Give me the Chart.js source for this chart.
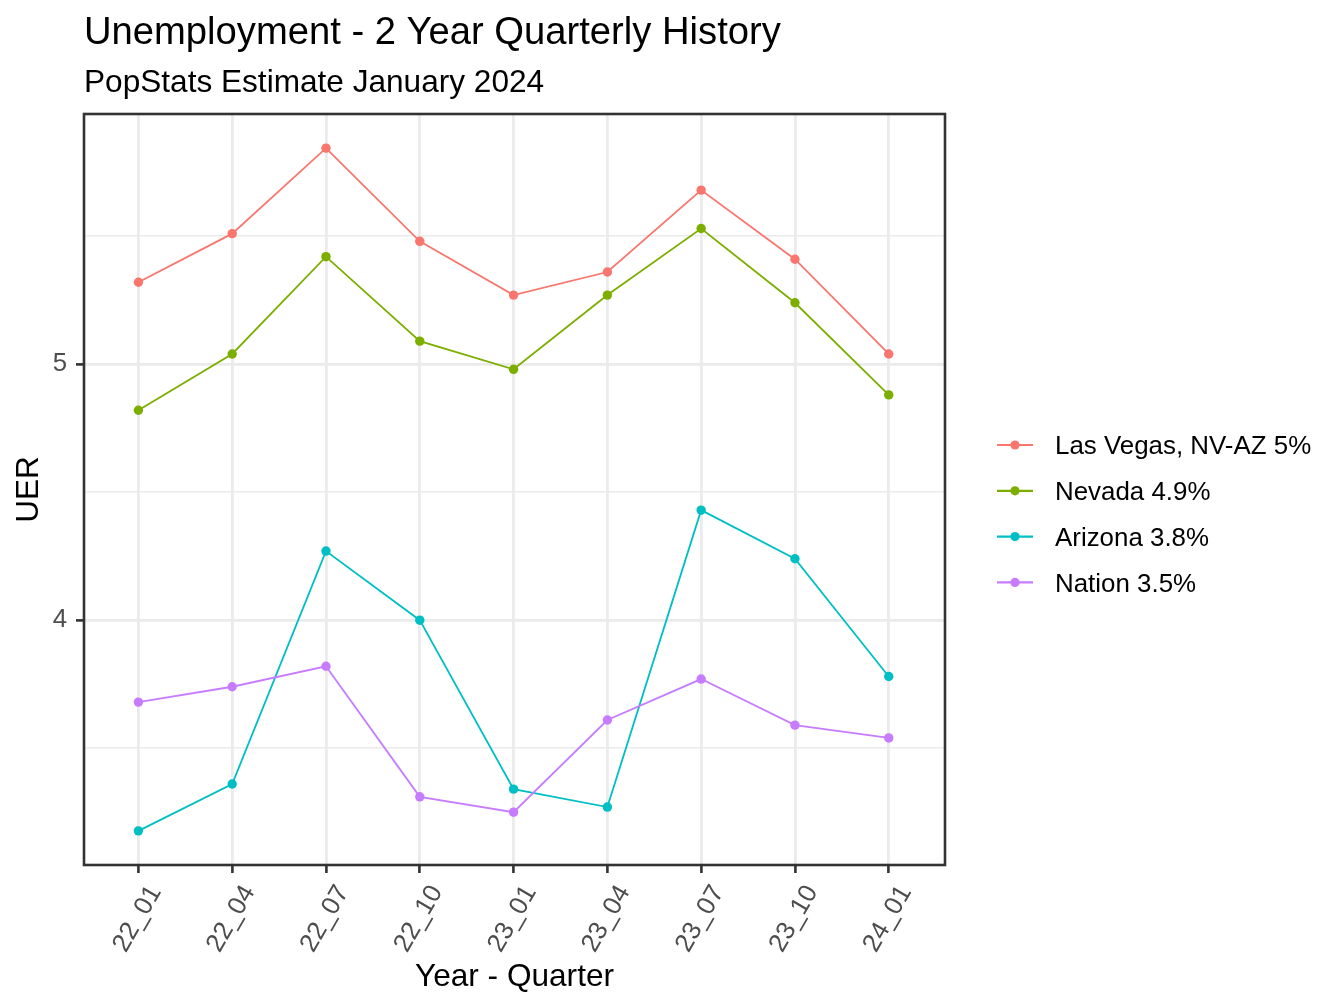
<!DOCTYPE html>
<html><head><meta charset="utf-8">
<script src="https://cdn.jsdelivr.net/npm/chart.js@4.4.1/dist/chart.umd.min.js"></script>
<style>html,body{margin:0;padding:0;background:#fff}canvas{display:block}</style>
</head><body>
<canvas id="c" width="1344" height="1008"></canvas>
<script>
const chartTitle = 'Unemployment - 2 Year Quarterly History';
const chartSubtitle = 'PopStats Estimate January 2024';
const xTitle = 'Year - Quarter';
const yTitle = 'UER';
const categories = ['22_01','22_04','22_07','22_10','23_01','23_04','23_07','23_10','24_01'];
const seriesNames = ['Las Vegas, NV-AZ 5%','Nevada 4.9%','Arizona 3.8%','Nation 3.5%'];
const lasVegas = [5.32,5.51,5.844,5.48,5.27,5.36,5.68,5.41,5.04];
const nevada   = [4.82,5.04,5.42,5.09,4.98,5.27,5.53,5.24,4.88];
const arizona  = [3.177,3.36,4.27,4.00,3.34,3.27,4.43,4.24,3.78];
const nation   = [3.68,3.74,3.82,3.31,3.25,3.61,3.77,3.59,3.54];
const yTickValues = [3.5,4,4.5,5,5.5];
const yTickLabels = ['','4','','5',''];
const seriesColors = ['#F8766D','#7CAE00','#00BFC4','#C77CFF'];

const FONT = "'Liberation Sans', Arial, sans-serif";
const seriesValues = [lasVegas, nevada, arizona, nation];
const allVals = seriesValues.flat();
const vMin = Math.min(...allVals), vMax = Math.max(...allVals);
const vPad = (vMax - vMin) * 0.05;

const datasets = seriesValues.map((vals, s) => ({
  label: seriesNames[s],
  data: vals.map((v, i) => ({x: i, y: v})),
  borderColor: seriesColors[s],
  backgroundColor: seriesColors[s],
  borderWidth: 1.8,
  pointRadius: 4.7,
  pointHoverRadius: 4.7,
  pointBorderWidth: 0,
  tension: 0,
  order: seriesValues.length - s
}));

const titlePlugin = {
  id: 'ggTitles',
  afterDraw(chart) {
    const ctx = chart.ctx, a = chart.chartArea;
    ctx.save();
    ctx.fillStyle = '#000';
    ctx.textAlign = 'left';
    ctx.textBaseline = 'alphabetic';
    ctx.font = `38.2px ${FONT}`;
    ctx.fillText(chartTitle, a.left, 43.5);
    ctx.font = `31.6px ${FONT}`;
    ctx.fillText(chartSubtitle, a.left, 92);
    ctx.restore();
  }
};

const borderPlugin = {
  id: 'panelBorder',
  afterDatasetsDraw(chart) {
    const ctx = chart.ctx, a = chart.chartArea;
    ctx.save();
    ctx.strokeStyle = '#333333';
    ctx.lineWidth = 2.6;
    ctx.strokeRect(a.left, a.top, a.right - a.left, a.bottom - a.top);
    ctx.restore();
  }
};

const legendPlugin = {
  id: 'ggLegend',
  afterDraw(chart) {
    const ctx = chart.ctx;
    const x0 = 997, x1 = 1033, tx = 1055, y0 = 445, dy = 45.8;
    ctx.save();
    chart.data.datasets.forEach((ds, i) => {
      const y = y0 + i * dy;
      ctx.strokeStyle = ds.borderColor;
      ctx.lineWidth = 2.2;
      ctx.beginPath(); ctx.moveTo(x0, y); ctx.lineTo(x1, y); ctx.stroke();
      ctx.fillStyle = ds.backgroundColor;
      ctx.beginPath(); ctx.arc((x0 + x1) / 2, y, 4.6, 0, Math.PI * 2); ctx.fill();
      ctx.fillStyle = '#000';
      ctx.font = `25.9px ${FONT}`;
      ctx.textAlign = 'left';
      ctx.textBaseline = 'alphabetic';
      ctx.fillText(ds.label, tx, y + 9.2);
    });
    ctx.restore();
  }
};

new Chart(document.getElementById('c'), {
  type: 'line',
  data: { datasets },
  plugins: [titlePlugin, borderPlugin, legendPlugin],
  options: {
    responsive: false,
    animation: false,
    events: [],
    layout: { padding: { top: 114, right: 399, left: 0, bottom: 0 } },
    plugins: { legend: { display: false }, title: { display: false }, tooltip: { enabled: false } },
    scales: {
      x: {
        type: 'linear',
        min: -0.58,
        max: categories.length - 1 + 0.6,
        afterBuildTicks(scale) { scale.ticks = categories.map((c, i) => ({ value: i })); },
        afterFit(scale) { scale.height = 143; },
        border: { display: false },
        grid: { color: '#EBEBEB', lineWidth: 2.8, drawTicks: true, tickLength: 8, tickColor: '#333333', tickWidth: 2.6 },
        ticks: {
          autoSkip: false,
          minRotation: 60, maxRotation: 60,
          padding: 7,
          labelOffset: 17,
          color: '#4D4D4D',
          font: { family: FONT, size: 25.8 },
          callback: (v) => categories[v]
        },
        title: { display: true, text: xTitle, color: '#000', font: { family: FONT, size: 31.6 }, padding: { top: 0, bottom: 11.5 } }
      },
      y: {
        type: 'linear',
        min: vMin - vPad,
        max: vMax + vPad,
        afterBuildTicks(scale) { scale.ticks = yTickValues.map(v => ({ value: v })); },
        afterFit(scale) { scale.width = 84; },
        border: { display: false },
        grid: {
          color: '#EBEBEB',
          lineWidth: (ctx) => Number.isInteger(ctx.tick.value) ? 2.8 : 1.4,
          drawTicks: true, tickLength: 8,
          tickColor: (ctx) => Number.isInteger(ctx.tick.value) ? '#333333' : 'rgba(0,0,0,0)',
          tickWidth: 2.6
        },
        ticks: {
          padding: 9,
          color: '#4D4D4D',
          font: { family: FONT, size: 25.8 },
          callback: (v) => yTickLabels[yTickValues.indexOf(v)]
        },
        title: { display: true, text: yTitle, color: '#000', font: { family: FONT, size: 31.6 }, padding: { top: 10.5, bottom: 0 } }
      }
    }
  }
});
</script>
</body></html>
